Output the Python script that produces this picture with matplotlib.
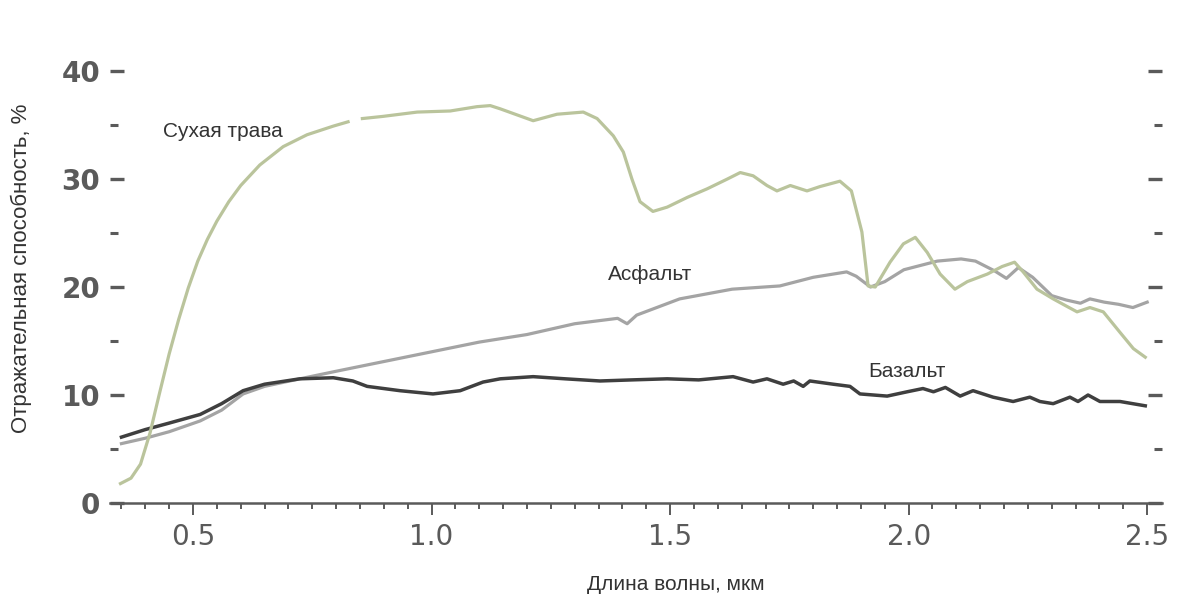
"""
Спектры отражения: сухая трава, асфальт, базальт.
"""

import numpy as np
import matplotlib.pyplot as plt
from matplotlib.ticker import MultipleLocator

# ── Данные (длина волны, мкм / отражательная способность, %) ────────────────
grass_x = [0.348, 0.37, 0.39, 0.41, 0.43, 0.45, 0.47, 0.49, 0.51, 0.53,
           0.55, 0.575, 0.60, 0.64, 0.689, 0.739, 0.794, 0.825, 0.84, 0.855,
           0.898, 0.97, 1.039, 1.095, 1.123, 1.144, 1.213, 1.263, 1.318, 1.347,
           1.381, 1.402, 1.42, 1.437, 1.464, 1.494, 1.536, 1.578, 1.62, 1.647,
           1.674, 1.703, 1.724, 1.752, 1.787, 1.814, 1.856, 1.88, 1.902, 1.915,
           1.93, 1.961, 1.989, 2.014, 2.039, 2.066, 2.097, 2.123, 2.165, 2.196,
           2.222, 2.24, 2.269, 2.303, 2.332, 2.353, 2.38, 2.408, 2.443, 2.471,
           2.496]
grass_y = [1.8, 2.3, 3.6, 6.5, 10.2, 13.8, 17.0, 19.9, 22.4, 24.4,
           26.1, 27.9, 29.4, 31.3, 33.0, 34.1, 34.9, 35.3, np.nan, 35.6,
           35.8, 36.2, 36.3, 36.7, 36.8, 36.5, 35.4, 36.0, 36.2, 35.6,
           34.0, 32.5, 30.0, 27.9, 27.0, 27.4, 28.3, 29.1, 30.0, 30.6,
           30.3, 29.4, 28.9, 29.4, 28.9, 29.3, 29.8, 28.9, 25.1, 20.1,
           20.0, 22.3, 24.0, 24.6, 23.2, 21.2, 19.8, 20.5, 21.2, 21.9,
           22.3, 21.4, 19.8, 18.9, 18.2, 17.7, 18.1, 17.7, 15.8, 14.3,
           13.5]

asphalt_x = [0.35, 0.40, 0.45, 0.515, 0.56, 0.605, 0.65, 0.724, 0.80, 0.90,
             1.00, 1.10, 1.20, 1.30, 1.39, 1.41, 1.43, 1.52, 1.63, 1.73,
             1.80, 1.87, 1.89, 1.92, 1.95, 1.99, 2.06, 2.11, 2.14, 2.18,
             2.205, 2.23, 2.26, 2.30, 2.33, 2.36, 2.38, 2.41, 2.44, 2.47, 2.50]
asphalt_y = [5.5, 6.0, 6.6, 7.6, 8.6, 10.1, 10.8, 11.5, 12.2, 13.1,
             14.0, 14.9, 15.6, 16.6, 17.1, 16.6, 17.4, 18.9, 19.8, 20.1,
             20.9, 21.4, 21.0, 20.0, 20.5, 21.6, 22.4, 22.6, 22.4, 21.5,
             20.8, 21.8, 20.9, 19.2, 18.8, 18.5, 18.9, 18.6, 18.4, 18.1, 18.6]

basalt_x = [0.35, 0.40, 0.45, 0.515, 0.56, 0.605, 0.65, 0.724, 0.794, 0.835,
            0.865, 0.934, 1.003, 1.06, 1.108, 1.144, 1.213, 1.28, 1.353, 1.42,
            1.494, 1.56, 1.632, 1.674, 1.703, 1.737, 1.759, 1.779, 1.793, 1.842,
            1.877, 1.898, 1.955, 1.997, 2.03, 2.052, 2.077, 2.108, 2.135, 2.177,
            2.219, 2.254, 2.275, 2.303, 2.338, 2.355, 2.376, 2.401, 2.443, 2.496]
basalt_y = [6.1, 6.8, 7.4, 8.2, 9.2, 10.4, 11.0, 11.5, 11.6, 11.3,
            10.8, 10.4, 10.1, 10.4, 11.2, 11.5, 11.7, 11.5, 11.3, 11.4,
            11.5, 11.4, 11.7, 11.2, 11.5, 11.0, 11.3, 10.8, 11.3, 11.0,
            10.8, 10.1, 9.9, 10.3, 10.6, 10.3, 10.7, 9.9, 10.4, 9.8,
            9.4, 9.8, 9.4, 9.2, 9.8, 9.4, 10.0, 9.4, 9.4, 9.0]

labels = ["Сухая трава", "Асфальт", "Базальт"]
label_pos = [(0.437, 34.4), (1.37, 21.2), (1.915, 12.2)]

# ── Цвета ───────────────────────────────────────────────────────────────────
GRASS_COLOR = "#bac49c"
ASPHALT_COLOR = "#a4a4a4"
BASALT_COLOR = "#3f3f3f"
AXIS_COLOR = "#5a5a5a"
TEXT_COLOR = "#333333"

plt.rcParams["font.family"] = ["Liberation Sans", "DejaVu Sans"]

fig = plt.figure(figsize=(11.84, 6.10), dpi=100)
ax = fig.add_axes([0.0929, 0.1754, 0.8885, 0.717])

ax.plot(asphalt_x, asphalt_y, color=ASPHALT_COLOR, lw=2.3, zorder=2)
ax.plot(basalt_x, basalt_y, color=BASALT_COLOR, lw=2.5, zorder=3)
ax.plot(grass_x, grass_y, color=GRASS_COLOR, lw=2.3, zorder=4)

for text, (tx, ty) in zip(labels, label_pos):
    ax.text(tx, ty, text, fontsize=15, color=TEXT_COLOR, ha="left", va="center")

ax.set_xlim(0.326, 2.531)
ax.set_ylim(0, 40.5)

for side in ("top", "left", "right"):
    ax.spines[side].set_visible(False)
ax.spines["bottom"].set_color(AXIS_COLOR)
ax.spines["bottom"].set_linewidth(1.8)

ax.xaxis.set_major_locator(MultipleLocator(0.5))
ax.xaxis.set_minor_locator(MultipleLocator(0.05))
ax.yaxis.set_major_locator(MultipleLocator(10))
ax.yaxis.set_minor_locator(MultipleLocator(5))
ax.set_xticks([0.5, 1.0, 1.5, 2.0, 2.5])
ax.set_xticklabels(["0.5", "1.0", "1.5", "2.0", "2.5"])

ax.tick_params(axis="x", which="major", direction="out", length=8.6, width=1.4,
               color=AXIS_COLOR, pad=6, labelsize=20, labelcolor=AXIS_COLOR)
ax.tick_params(axis="x", which="minor", direction="out", length=4.3, width=1.4,
               color=AXIS_COLOR)
ax.tick_params(axis="y", which="major", direction="in", length=10, width=2.4,
               color=AXIS_COLOR, pad=7, labelsize=20, labelcolor=AXIS_COLOR,
               left=True, right=True, labelleft=True, labelright=False)
ax.tick_params(axis="y", which="minor", direction="in", length=6, width=2.2,
               color=AXIS_COLOR, left=True, right=True)
for lbl in ax.get_yticklabels():
    lbl.set_fontfamily("DejaVu Sans")
    lbl.set_fontweight("bold")
for lbl in ax.get_xticklabels():
    lbl.set_fontfamily("DejaVu Sans")

ax.set_xlabel("Длина волны, мкм", fontsize=15, color=TEXT_COLOR)
ax.set_ylabel("Отражательная способность, %", fontsize=16, color=TEXT_COLOR)
ax.xaxis.set_label_coords(0.538, -0.165)
ax.yaxis.set_label_coords(-0.0742, 0.537)

fig.savefig("out.png", dpi=100, facecolor="white")
